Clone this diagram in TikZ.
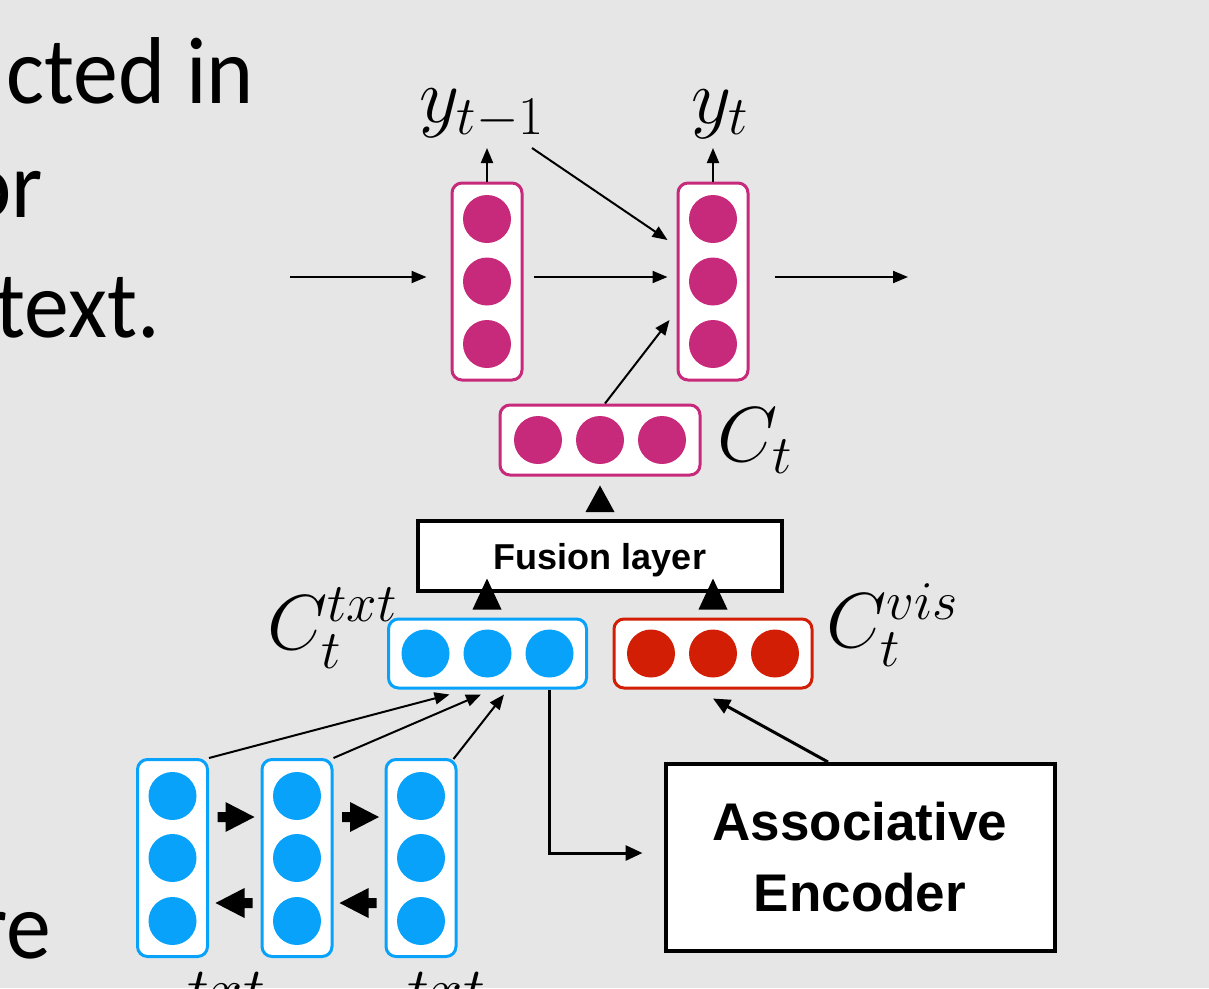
\RequirePackage{fix-cm}
\documentclass[tikz,border=0pt]{standalone}
\usepackage{fontspec}
\newfontfamily\slidefont[FakeStretch=0.945]{Carlito}
\newfontfamily\labelfont{Liberation Sans}
\usetikzlibrary{arrows.meta,calc}

\definecolor{bgc}{RGB}{230,230,230}
\definecolor{pinkc}{RGB}{199,42,122}
\definecolor{bluec}{RGB}{8,162,250}
\definecolor{redc}{RGB}{210,30,4}

\tikzset{
  cell/.style={draw=#1, line width=3pt, rounded corners=10pt, fill=white, inner sep=0pt},
  vcell/.style={cell=#1, minimum width=70pt, minimum height=197pt},
  hcell/.style={cell=#1, minimum width=198pt, minimum height=69pt},
  neuron/.style={circle, fill=#1, minimum size=48pt, inner sep=0pt},
  flow/.style={line width=2pt, -{Triangle[length=15pt,width=12pt]}},
  boldflow/.style={line width=3pt, -{Triangle[length=17pt,width=15pt]}},
  lbl/.style={inner sep=0pt, font=\fontsize{78}{90}\selectfont},
  plainbox/.style={draw=black, line width=4pt, fill=white, inner sep=0pt},
  slidetext/.style={anchor=base east, inner sep=0pt, font=\slidefont\fontsize{95}{110}\selectfont},
}

\begin{document}
\begin{tikzpicture}[x=1pt,y=-1pt]
\useasboundingbox (0,0) rectangle (1209,988);
\clip (0,0) rectangle (1209,988);
\fill[bgc] (0,0) rectangle (1209,988);

% slide body text (cut at the left edge)
\node[slidetext] (s1) at (254,103) {cted in};
\node[slidetext] (s2) at (43,217) {or};
\node[slidetext] (s3) at (160,337) {text.};
\node[slidetext] (s4) at (51,958) {re};

% decoder cells
\node[vcell=pinkc] (d1) at (487,281.5) {};
\node[vcell=pinkc] (d2) at (713,281.5) {};
\foreach \b in {d1,d2}
  \foreach \k/\dy in {1/-62.5,2/0,3/62.5}
    \node[neuron=pinkc] (\b-\k) at ($(\b)+(0,\dy)$) {};

% context vectors
\node[hcell=pinkc, minimum width=200pt, minimum height=70pt] (ct) at (600,440) {};
\node[hcell=bluec] (ctxt) at (487.5,653.5) {};
\node[hcell=redc] (cvis) at (713,653.5) {};
\foreach \b/\c in {ct/pinkc,ctxt/bluec,cvis/redc}
  \foreach \k/\dx in {1/-62,2/0,3/62}
    \node[neuron=\c] (\b-\k) at ($(\b)+(\dx,0)$) {};

% encoder cells
\foreach \n/\x in {e1/172.5,e2/297,e3/421}{
  \node[vcell=bluec] (\n) at (\x,858) {};
  \foreach \k/\dy in {1/-62,2/0,3/63}
    \node[neuron=bluec] (\n-\k) at ($(\n)+(0,\dy)$) {};
}

% boxes with text
\node[plainbox, minimum width=364pt, minimum height=70pt, text height=26pt, text depth=0pt,
      font=\labelfont\bfseries\fontsize{36}{40}\selectfont] (fus) at (600,556) {Fusion layer};
\node[plainbox, minimum width=389pt, minimum height=187pt, align=center,
      font=\labelfont\bfseries\fontsize{53}{71}\selectfont] (assoc) at (860,857.5) {Associative\\Encoder};

% labels
\node[lbl] (yl1) at (482,114) {$y_{t-1}$};
\node[lbl] (yl2) at (720,114) {$y_t$};
\node[lbl] (ctl) at (755,441) {$C_t$};
\node[lbl] (ctxtl) at (332,628) {$C_t^{txt}$};
\node[lbl] (cvisl) at (892,625) {$C_t^{vis}$};
\node[anchor=north west, inner sep=0pt, font=\fontsize{88}{100}\selectfont] (h1l) at (187,972) {$\scriptstyle txt$};
\node[anchor=north west, inner sep=0pt, font=\fontsize{88}{100}\selectfont] (hnl) at (407,972) {$\scriptstyle txt$};

% decoder connectors
\coordinate (in0) at (290,277);
\coordinate (out0) at (908,277);
\coordinate (yo1) at (487,148);
\coordinate (yo2) at (713,148);
\coordinate (yfeed) at (532,148);
\draw[flow] (in0) -- ($(d1.west)+(-24,-4.5)$);
\draw[flow] ($(d1.east)+(10,-4.5)$) -- ($(d2.west)+(-9,-4.5)$);
\draw[flow] ($(d2.east)+(25,-4.5)$) -- (out0);
\draw[flow] (d1.north) -- (yo1);
\draw[flow] (d2.north) -- (yo2);
\draw[flow] (yfeed) -- ($(d2.west)+(-9,-41.5)$);
\draw[flow] ($(ct.north)+(5,0)$) -- ($(d2.west)+(-7,38.5)$);

% fusion arrows
\fill ($(fus.north)+(-14.5,-7)$) -- ($(fus.north)+(14.5,-7)$) -- ($(ct.south)+(0,9)$) -- cycle;
\fill ($(ctxt.north)+(-15,-8)$) -- ($(ctxt.north)+(14,-8)$) -- ($(ctxt.north)+(-0.5,-39)$) -- cycle;
\fill ($(cvis.north)+(-14.5,-8)$) -- ($(cvis.north)+(14.5,-8)$) -- ($(cvis.north)+(0,-39)$) -- cycle;

% encoder to text context
\draw[flow] (e1.north east) -- ($(ctxt.south)+(-38,5)$);
\draw[flow] (e2.north east) -- ($(ctxt.south)+(-6.5,5)$);
\draw[flow] ($(e3.north east)+(-4,1)$) -- ($(ctxt.south)+(16.5,5)$);

% bidirectional block arrows
\foreach \a/\b in {e1/e2,e2/e3}{
  \begin{scope}[shift={($(\a.east)+(8.5,-41)$)}]
    \fill (0,-5) -- (8,-5) -- (8,-15) -- (37,0) -- (8,15) -- (8,5) -- (0,5) -- cycle;
  \end{scope}
  \begin{scope}[shift={($(\b.west)+(-8,45)$)}]
    \fill (0,-5) -- (-8,-5) -- (-8,-15) -- (-37,0) -- (-8,15) -- (-8,5) -- (0,5) -- cycle;
  \end{scope}
}

% associative encoder links
\draw[boldflow] ($(ctxt.south)+(62,0)$) |- ($(assoc.west)+(-21,-4.5)$);
\draw[boldflow] ($(assoc.north)+(-32,0)$) -- ($(cvis.south)+(0,9)$);
\end{tikzpicture}
\end{document}
